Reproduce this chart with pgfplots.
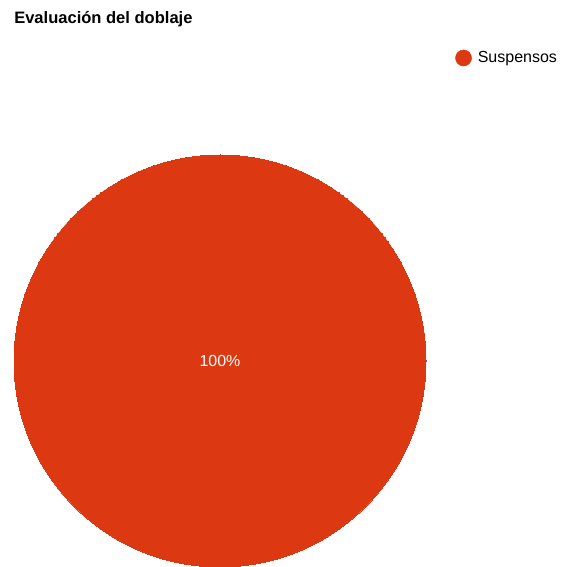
\documentclass[border=0pt]{standalone}
\usepackage{fontspec}
\setmainfont{Liberation Sans}
\usepackage{pgfplots}
\pgfplotsset{compat=1.18}
\definecolor{pie}{HTML}{DC3912}

\begin{document}
\begin{tikzpicture}
\begin{axis}[
    scale only axis,
    width=420.75pt, height=425.25pt,
    xmin=0, xmax=561, ymin=0, ymax=567,
    hide axis, clip=false,
    /pgf/number format/assume math mode=true,
    point meta=explicit,
    nodes near coords={\pgfmathprintnumber{\pgfplotspointmeta}\%},
    every node near coord/.style={anchor=center, text=white, font=\fontsize{12pt}{14pt}\selectfont},
    legend style={at={(axis cs:455,509)}, anchor=west, draw=none, fill=none,
        font=\fontsize{12pt}{14pt}\selectfont, inner sep=0pt,
        nodes={inner sep=0pt, anchor=west}, column sep=0pt},
    legend cell align=left,
    legend image code/.code={\fill[pie] (6pt,0pt) circle (6pt); \path (16.5pt,0pt);},
]
% keep the whole canvas in the bounding box
\path (rel axis cs:0,0) rectangle (rel axis cs:1,1);
% single slice: Suspensos = 100 %
\addplot[only marks, mark=*, mark size=154.5pt,
    mark options={fill=pie, draw=pie, line width=0pt}]
    coordinates {(220,206) [100]};
\addlegendentry{Suspensos}
\node[anchor=base west, inner sep=0pt, font=\bfseries\fontsize{12.4pt}{14pt}\selectfont]
    at (axis cs:14,543) {Evaluación del doblaje};
\end{axis}
\end{tikzpicture}
\end{document}
